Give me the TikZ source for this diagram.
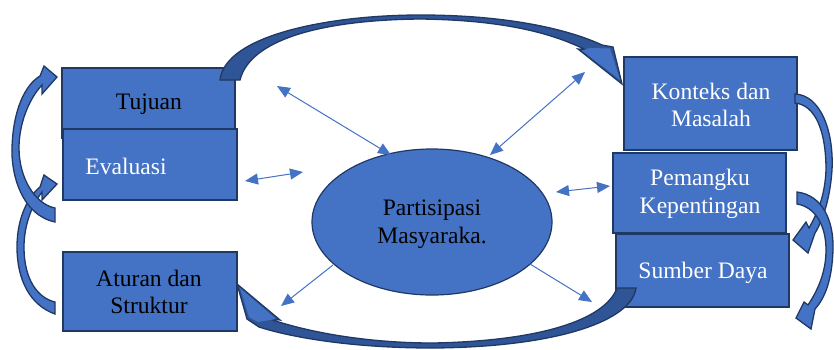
\documentclass[tikz,border=0pt]{standalone}
\usepackage{fontspec}
\setmainfont{Liberation Serif}
\usetikzlibrary{arrows.meta,shapes.geometric}
\definecolor{boxblue}{HTML}{4472C4}
\definecolor{darkblue}{HTML}{203864}
\definecolor{midblue}{HTML}{2F5597}
\begin{document}
\begin{tikzpicture}[x=1pt,y=-1pt,
  box/.style={draw=darkblue, line width=1.2pt, fill=boxblue, inner sep=0pt},
  lbl/.style={font=\fontsize{23.6}{27.5}\selectfont, align=center, inner sep=0pt},
  thinline/.style={boxblue, line width=1pt},
  onehead/.style={-{Triangle[length=13pt,width=11pt]}},
  twohead/.style={{Triangle[length=13pt,width=11pt]}-{Triangle[length=13pt,width=11pt]}},
  blk/.style={fill=boxblue, draw=darkblue, line width=1.3pt, line join=miter}]
\useasboundingbox (0,0) rectangle (834,349);

% boxes
\node[box, minimum width=173, minimum height=70] (tuj) at (148.5,103) {};
\node[lbl] at (149,104) {Tujuan};
\node[box, minimum width=174, minimum height=71] (eva) at (150,164.5) {};
\node[lbl, white] at (126,166) {Evaluasi};
\node[box, minimum width=174, minimum height=79] (atu) at (150,291.5) {};
\node[lbl] at (149,292) {Aturan dan\\Struktur};
\node[box, minimum width=173, minimum height=93] (kon) at (710.5,103.5) {};
\node[lbl, white] at (711,105) {Konteks dan\\Masalah};
\node[box, minimum width=173, minimum height=80] (pem) at (699.5,193) {};
\node[lbl, white] at (700,194) {Pemangku\\Kepentingan};
\node[box, minimum width=173, minimum height=73] (sum) at (702.5,270.5) {};
\node[lbl, white] at (703,273) {Sumber Daya};
\node[ellipse, draw=darkblue, line width=1.2pt, fill=boxblue, minimum width=240, minimum height=146, inner sep=0pt] (ell) at (432,222) {};
\node[lbl] at (432,224) {Partisipasi\\Masyaraka.};

% thin arrows
\coordinate (p1) at (277,86);   \coordinate (q1) at (391,155);
\coordinate (p2) at (585,72);   \coordinate (q2) at (490,155);
\coordinate (p3) at (245,181);  \coordinate (q3) at (303,172);
\coordinate (p4) at (556,192);  \coordinate (q4) at (610,186);
\coordinate (p5) at (333,265);  \coordinate (q5) at (281,306);
\coordinate (p6) at (530,264);  \coordinate (q6) at (592,302);
\draw[thinline, twohead] (p1) -- (q1);
\draw[thinline, twohead] (p2) -- (q2);
\draw[thinline, twohead] (p3) -- (q3);
\draw[thinline, twohead] (p4) -- (q4);
\draw[thinline, onehead] (p5) -- (q5);
\draw[thinline, onehead] (p6) -- (q6);

% top curved block arrow (Tujuan -> Konteks)
\draw[blk, fill=midblue] (220,80) .. controls (225,35) and (330,15) .. (420,15)
  .. controls (510,15) and (570,30) .. (602,45) -- (613,47) -- (622,84) -- (578,49) -- (586,50)
  .. controls (550,32) and (500,20) .. (420,19)
  .. controls (320,20) and (250,40) .. (240,80) -- cycle;
\fill[boxblue] (590,48) -- (610,48.5) -- (620,80) -- (582,50.5) -- cycle;

% bottom curved block arrow (Sumber Daya -> Aturan)
\draw[blk, fill=midblue] (617,288) -- (636,288) .. controls (632,320) and (560,347) .. (433,348)
  .. controls (350,348) and (290,337) .. (259,327) -- (247,319) -- (237,284) -- (280,320) -- (267,318)
  .. controls (300,330) and (360,343) .. (433,343)
  .. controls (540,341) and (605,320) .. (617,288) -- cycle;
\fill[boxblue] (240,288) -- (276,319) -- (258,322) -- (249,317) -- cycle;

% left lower curved arrow
\draw[blk] (55,314) .. controls (30,305) and (17,280) .. (17,247)
  .. controls (17,215) and (30,195) .. (40,187) -- (44,175) -- (57,184) -- (42,200) -- (42,192)
  .. controls (32,205) and (24,225) .. (24,247)
  .. controls (24,280) and (38,298) .. (55,302) -- cycle;

% left upper curved arrow
\draw[blk] (55,222) .. controls (22,215) and (11,175) .. (12,148)
  .. controls (13,110) and (25,85) .. (40,76) -- (44,66) -- (57,77) -- (42,94) -- (42,85)
  .. controls (28,100) and (19,125) .. (19,148)
  .. controls (19,178) and (35,204) .. (55,208) -- cycle;

% right upper curved arrow
\draw[blk] (795,94) .. controls (820,95) and (834,130) .. (832,170)
  .. controls (830,200) and (822,222) .. (815,233) -- (808,253) -- (793,240) -- (806,222) -- (809,228)
  .. controls (818,212) and (825,195) .. (826,170)
  .. controls (826,130) and (815,105) .. (795,103) -- cycle;

% right lower curved arrow
\draw[blk] (797,192) .. controls (822,195) and (834,220) .. (833,250)
  .. controls (832,280) and (825,298) .. (815,309) -- (811,329) -- (796,318) -- (804,302) -- (808,305)
  .. controls (818,290) and (826,272) .. (826,250)
  .. controls (826,225) and (815,207) .. (797,204) -- cycle;
\end{tikzpicture}
\end{document}
